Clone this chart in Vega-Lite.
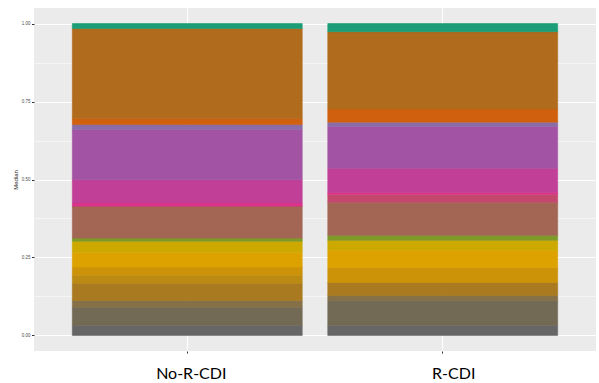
{
  "$schema": "https://vega.github.io/schema/vega-lite/v6.json",
  "width": 562,
  "height": 343,
  "autosize": {"type": "none"},
  "padding": {"left": 34, "top": 8, "right": 3, "bottom": 32},
  "background": "white",
  "config": {"view": {"fill": "#EBEBEB", "stroke": null}},
  "data": {
    "values": [
      {"group": "No-R-CDI", "taxon": "T18", "k": 1, "median": 0.032},
      {"group": "No-R-CDI", "taxon": "T17", "k": 2, "median": 0.058},
      {"group": "No-R-CDI", "taxon": "T16", "k": 3, "median": 0.022},
      {"group": "No-R-CDI", "taxon": "T15", "k": 4, "median": 0.055},
      {"group": "No-R-CDI", "taxon": "T14", "k": 5, "median": 0.026},
      {"group": "No-R-CDI", "taxon": "T13", "k": 6, "median": 0.026},
      {"group": "No-R-CDI", "taxon": "T12", "k": 7, "median": 0.048},
      {"group": "No-R-CDI", "taxon": "T11", "k": 8, "median": 0.035},
      {"group": "No-R-CDI", "taxon": "T10", "k": 9, "median": 0.010},
      {"group": "No-R-CDI", "taxon": "T09", "k": 10, "median": 0.103},
      {"group": "No-R-CDI", "taxon": "T08", "k": 11, "median": 0.0},
      {"group": "No-R-CDI", "taxon": "T07", "k": 12, "median": 0.010},
      {"group": "No-R-CDI", "taxon": "T06", "k": 13, "median": 0.074},
      {"group": "No-R-CDI", "taxon": "T05", "k": 14, "median": 0.161},
      {"group": "No-R-CDI", "taxon": "T04", "k": 15, "median": 0.016},
      {"group": "No-R-CDI", "taxon": "T03", "k": 16, "median": 0.019},
      {"group": "No-R-CDI", "taxon": "T02", "k": 17, "median": 0.289},
      {"group": "No-R-CDI", "taxon": "T01", "k": 18, "median": 0.016},
      {"group": "R-CDI", "taxon": "T18", "k": 1, "median": 0.032},
      {"group": "R-CDI", "taxon": "T17", "k": 2, "median": 0.080},
      {"group": "R-CDI", "taxon": "T16", "k": 3, "median": 0.016},
      {"group": "R-CDI", "taxon": "T15", "k": 4, "median": 0.042},
      {"group": "R-CDI", "taxon": "T14", "k": 5, "median": 0.0},
      {"group": "R-CDI", "taxon": "T13", "k": 6, "median": 0.048},
      {"group": "R-CDI", "taxon": "T12", "k": 7, "median": 0.055},
      {"group": "R-CDI", "taxon": "T11", "k": 8, "median": 0.032},
      {"group": "R-CDI", "taxon": "T10", "k": 9, "median": 0.016},
      {"group": "R-CDI", "taxon": "T09", "k": 10, "median": 0.106},
      {"group": "R-CDI", "taxon": "T08", "k": 11, "median": 0.026},
      {"group": "R-CDI", "taxon": "T07", "k": 12, "median": 0.006},
      {"group": "R-CDI", "taxon": "T06", "k": 13, "median": 0.077},
      {"group": "R-CDI", "taxon": "T05", "k": 14, "median": 0.135},
      {"group": "R-CDI", "taxon": "T04", "k": 15, "median": 0.013},
      {"group": "R-CDI", "taxon": "T03", "k": 16, "median": 0.042},
      {"group": "R-CDI", "taxon": "T02", "k": 17, "median": 0.248},
      {"group": "R-CDI", "taxon": "T01", "k": 18, "median": 0.026}
    ]
  },
  "mark": {"type": "bar", "strokeWidth": 0.6},
  "encoding": {
    "x": {
      "field": "group",
      "type": "nominal",
      "sort": ["No-R-CDI", "R-CDI"],
      "scale": {"paddingInner": 0.1, "paddingOuter": 0.15},
      "axis": {
        "title": null,
        "labelAngle": 0,
        "labelFont": "Lato",
        "labelFontSize": 16,
        "labelColor": "black",
        "labelPadding": 12,
        "labelOffset": {"condition": {"test": "datum.value == 'R-CDI'", "value": 11}, "value": 4},
        "tickSize": 2,
        "tickColor": "#333333",
        "domain": false,
        "grid": true,
        "gridColor": "white",
        "gridWidth": 1
      }
    },
    "y": {
      "field": "median",
      "type": "quantitative",
      "stack": "zero",
      "scale": {"domain": [-0.05, 1.05], "nice": false, "zero": false},
      "axis": {
        "title": "Median",
        "titleFont": "Liberation Sans",
        "titleFontSize": 6,
        "titleFontWeight": "normal",
        "titleColor": "#222222",
        "titlePadding": 3,
        "values": [0, 0.125, 0.25, 0.375, 0.5, 0.625, 0.75, 0.875, 1],
        "labelExpr": "round(datum.value*4) == datum.value*4 ? format(datum.value, '.2f') : ''",
        "labelFont": "Liberation Sans",
        "labelFontSize": 4.5,
        "labelColor": "#4D4D4D",
        "labelPadding": 1.5,
        "tickSize": 2.5,
        "tickColor": "#333333",
        "tickOpacity": {"condition": {"test": "round(datum.value*4) != datum.value*4", "value": 0}, "value": 1},
        "domain": false,
        "grid": true,
        "gridColor": "white",
        "gridWidth": {"condition": {"test": "round(datum.value*4) != datum.value*4", "value": 0.5}, "value": 1}
      }
    },
    "color": {
      "field": "taxon",
      "type": "nominal",
      "scale": {
        "domain": ["T01", "T02", "T03", "T04", "T05", "T06", "T07", "T08", "T09", "T10", "T11", "T12", "T13", "T14", "T15", "T16", "T17", "T18"],
        "range": ["#1B9E77", "#B06B1C", "#D0600E", "#8A6CA8", "#A253A3", "#C13F97", "#DC3289", "#C4476D", "#A36654", "#7E9A28", "#CDA900", "#DEA200", "#CC9208", "#BB8A13", "#A97A20", "#857047", "#726A55", "#666666"]
      },
      "legend": null
    },
    "stroke": {
      "field": "taxon",
      "type": "nominal",
      "scale": {
        "domain": ["T01", "T02", "T03", "T04", "T05", "T06", "T07", "T08", "T09", "T10", "T11", "T12", "T13", "T14", "T15", "T16", "T17", "T18"],
        "range": ["#1B9E77", "#B06B1C", "#D0600E", "#8A6CA8", "#A253A3", "#C13F97", "#DC3289", "#C4476D", "#A36654", "#7E9A28", "#CDA900", "#DEA200", "#CC9208", "#BB8A13", "#A97A20", "#857047", "#726A55", "#666666"]
      },
      "legend": null
    },
    "order": {"field": "k", "type": "quantitative"}
  }
}
